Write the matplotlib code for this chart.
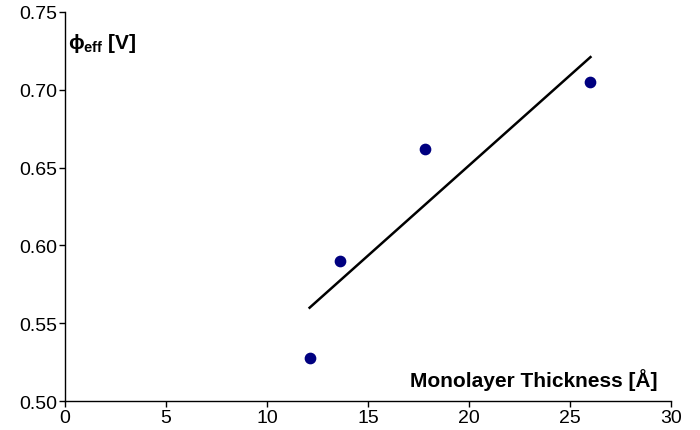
import matplotlib
matplotlib.use("Agg")
import matplotlib.pyplot as plt

# --- Data ---
thickness = [12.1, 13.6, 17.8, 26.0]
phi_eff = [0.528, 0.590, 0.662, 0.705]
fit_x = [12.1, 26.0]
fit_y = [0.560, 0.721]

plt.rcParams["font.family"] = ["Liberation Sans", "DejaVu Sans"]
plt.rcParams["mathtext.fontset"] = "custom"
plt.rcParams["mathtext.rm"] = "Liberation Sans:bold"
plt.rcParams["mathtext.it"] = "Liberation Sans:bold"
plt.rcParams["mathtext.bf"] = "Liberation Sans:bold"

fig = plt.figure(figsize=(7.0, 4.31), dpi=100)
ax = fig.add_axes([0.093, 0.067, 0.866, 0.903])

ax.plot(fit_x, fit_y, color="black", lw=1.8)
ax.scatter(thickness, phi_eff, s=55, color="#000080", zorder=3)

ax.set_xlim(0, 30)
ax.set_ylim(0.50, 0.75)
ax.set_xticks([0, 5, 10, 15, 20, 25, 30])
ax.set_yticks([0.50, 0.55, 0.60, 0.65, 0.70, 0.75])
ax.set_yticklabels([f"{v:.2f}" for v in ax.get_yticks()])

for s in ("top", "right"):
    ax.spines[s].set_visible(False)
for s in ("left", "bottom"):
    ax.spines[s].set_linewidth(1.0)
ax.tick_params(direction="out", length=4, width=1, labelsize=14, pad=2)

ax.text(0.005, 0.922, r"$\phi_{eff}$ [V]", transform=ax.transAxes,
        fontsize=15, fontweight="bold", ha="left", va="center")
ax.text(0.977, 0.057, "Monolayer Thickness [Å]", transform=ax.transAxes,
        fontsize=15, fontweight="bold", ha="right", va="center")

fig.savefig("out.png", dpi=100)
